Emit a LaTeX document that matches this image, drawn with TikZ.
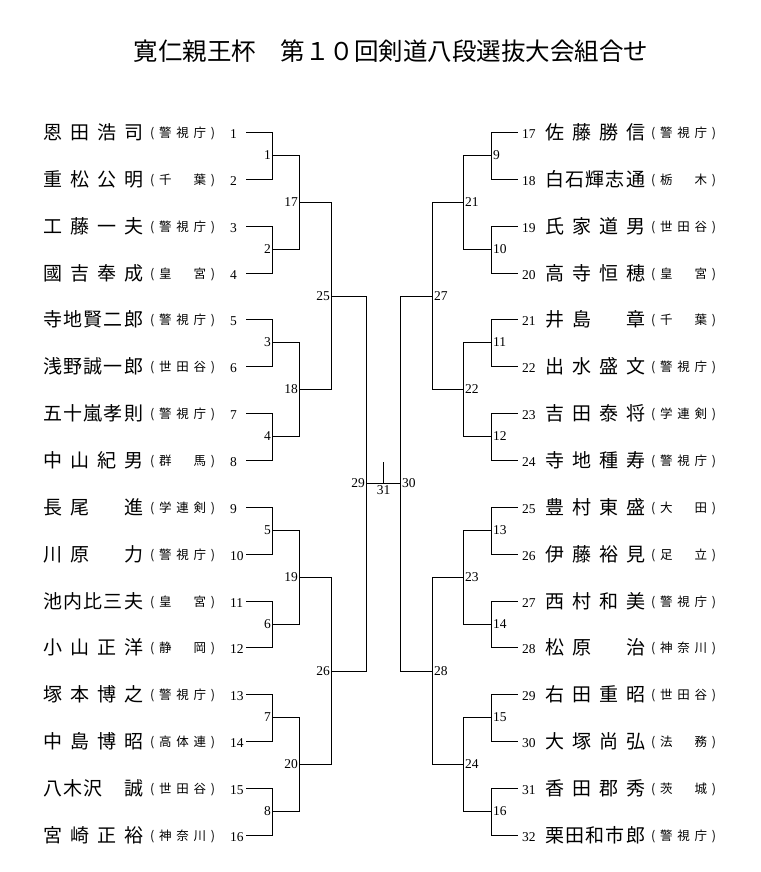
\documentclass[tikz,border=0pt]{standalone}
\usepackage{fontspec}
\setmainfont{Liberation Serif}
\newfontfamily\jp{Noto Sans CJK JP}
\usepackage{tikz}
\usetikzlibrary{positioning}
\newcommand{\namefont}{\jp\fontsize{19}{19}\selectfont}
\newcommand{\afffont}{\jp\fontsize{12.5}{12.5}\selectfont}
\newcommand{\numfont}{\fontsize{13.5}{13.5}\selectfont}
\newcommand{\pname}[1]{\makebox[100pt][s]{\namefont #1}}
\newcommand{\paff}[1]{\raisebox{2.5pt}{\makebox[65pt][s]{\afffont #1}}}
\newcommand{\aff}[3]{(\hfill #1\hfill #2\hfill #3\hfill )}
\newcommand{\affx}[2]{(\hfill #1\hfill \phantom{#1}\hfill #2\hfill )}
\newcommand{\lrow}[3]{\pname{#1}\hspace{7pt}\paff{#2}\hspace{15pt}%
  \makebox[16pt][l]{\raisebox{1.5pt}{\numfont #3}}}
\newcommand{\rrow}[3]{\hspace*{5pt}\makebox[23pt][l]{\raisebox{1.5pt}{\numfont #1}}%
  \pname{#2}\hspace{6pt}\paff{#3}}
\tikzset{
    player/.style={
           inner sep=0pt,
           anchor=west,
           },
    lnum/.style={
           inner sep=1.5pt,
           font=\numfont,
           },
    titlebox/.style={
           inner sep=0pt,
           font=\jp\fontsize{24.5}{24.5}\selectfont,
           },
    link/.style={
           line width=1.5pt,
           line cap=rect,
           to path={-| (\tikztotarget)},
           },
    straight/.style={
           line width=1.5pt,
           line cap=rect,
           },
}
\begin{document}
\begin{tikzpicture}[x=1pt, y=-1pt, node distance=0pt]
	\useasboundingbox (0,0) rectangle (760,872);
	\node[titlebox] (title) at (391,51) {寛仁親王杯　第１０回剣道八段選抜大会組合せ};
	
	% left players
	\node[player] (p1) at (43,132.5) {\lrow{恩\hfill 田\hfill 浩\hfill 司}{\aff{警}{視}{庁}}{1}};
	\node[player] (p2) at (43,179.5) {\lrow{重\hfill 松\hfill 公\hfill 明}{\affx{千}{葉}}{2}};
	\node[player] (p3) at (43,226.5) {\lrow{工\hfill 藤\hfill 一\hfill 夫}{\aff{警}{視}{庁}}{3}};
	\node[player] (p4) at (43,273.5) {\lrow{國\hfill 吉\hfill 奉\hfill 成}{\affx{皇}{宮}}{4}};
	\node[player] (p5) at (43,319.5) {\lrow{寺\hfill 地\hfill 賢\hfill 二\hfill 郎}{\aff{警}{視}{庁}}{5}};
	\node[player] (p6) at (43,366.5) {\lrow{浅\hfill 野\hfill 誠\hfill 一\hfill 郎}{\aff{世}{田}{谷}}{6}};
	\node[player] (p7) at (43,413.5) {\lrow{五\hfill 十\hfill 嵐\hfill 孝\hfill 則}{\aff{警}{視}{庁}}{7}};
	\node[player] (p8) at (43,460.5) {\lrow{中\hfill 山\hfill 紀\hfill 男}{\affx{群}{馬}}{8}};
	\node[player] (p9) at (43,507.5) {\lrow{長\hfill 尾\hfill \phantom{長}\hfill 進}{\aff{学}{連}{剣}}{9}};
	\node[player] (p10) at (43,554.5) {\lrow{川\hfill 原\hfill \phantom{川}\hfill 力}{\aff{警}{視}{庁}}{10}};
	\node[player] (p11) at (43,601.5) {\lrow{池\hfill 内\hfill 比\hfill 三\hfill 夫}{\affx{皇}{宮}}{11}};
	\node[player] (p12) at (43,647.5) {\lrow{小\hfill 山\hfill 正\hfill 洋}{\affx{静}{岡}}{12}};
	\node[player] (p13) at (43,694.5) {\lrow{塚\hfill 本\hfill 博\hfill 之}{\aff{警}{視}{庁}}{13}};
	\node[player] (p14) at (43,741.5) {\lrow{中\hfill 島\hfill 博\hfill 昭}{\aff{高}{体}{連}}{14}};
	\node[player] (p15) at (43,788.5) {\lrow{八\hfill 木\hfill 沢\hfill \phantom{八}\hfill 誠}{\aff{世}{田}{谷}}{15}};
	\node[player] (p16) at (43,835.5) {\lrow{宮\hfill 崎\hfill 正\hfill 裕}{\aff{神}{奈}{川}}{16}};
	
	% right players
	\node[player] (p17) at (517,132.5) {\rrow{17}{佐\hfill 藤\hfill 勝\hfill 信}{\aff{警}{視}{庁}}};
	\node[player] (p18) at (517,179.5) {\rrow{18}{白\hfill 石\hfill 輝\hfill 志\hfill 通}{\affx{栃}{木}}};
	\node[player] (p19) at (517,226.5) {\rrow{19}{氏\hfill 家\hfill 道\hfill 男}{\aff{世}{田}{谷}}};
	\node[player] (p20) at (517,273.5) {\rrow{20}{高\hfill 寺\hfill 恒\hfill 穂}{\affx{皇}{宮}}};
	\node[player] (p21) at (517,319.5) {\rrow{21}{井\hfill 島\hfill \phantom{井}\hfill 章}{\affx{千}{葉}}};
	\node[player] (p22) at (517,366.5) {\rrow{22}{出\hfill 水\hfill 盛\hfill 文}{\aff{警}{視}{庁}}};
	\node[player] (p23) at (517,413.5) {\rrow{23}{吉\hfill 田\hfill 泰\hfill 将}{\aff{学}{連}{剣}}};
	\node[player] (p24) at (517,460.5) {\rrow{24}{寺\hfill 地\hfill 種\hfill 寿}{\aff{警}{視}{庁}}};
	\node[player] (p25) at (517,507.5) {\rrow{25}{豊\hfill 村\hfill 東\hfill 盛}{\affx{大}{田}}};
	\node[player] (p26) at (517,554.5) {\rrow{26}{伊\hfill 藤\hfill 裕\hfill 見}{\affx{足}{立}}};
	\node[player] (p27) at (517,601.5) {\rrow{27}{西\hfill 村\hfill 和\hfill 美}{\aff{警}{視}{庁}}};
	\node[player] (p28) at (517,647.5) {\rrow{28}{松\hfill 原\hfill \phantom{松}\hfill 治}{\aff{神}{奈}{川}}};
	\node[player] (p29) at (517,694.5) {\rrow{29}{右\hfill 田\hfill 重\hfill 昭}{\aff{世}{田}{谷}}};
	\node[player] (p30) at (517,741.5) {\rrow{30}{大\hfill 塚\hfill 尚\hfill 弘}{\affx{法}{務}}};
	\node[player] (p31) at (517,788.5) {\rrow{31}{香\hfill 田\hfill 郡\hfill 秀}{\affx{茨}{城}}};
	\node[player] (p32) at (517,835.5) {\rrow{32}{栗\hfill 田\hfill 和\hfill 市\hfill 郎}{\aff{警}{視}{庁}}};
	
	% match points
	\coordinate (m1) at (272.5,155.5);
	\coordinate (m2) at (272.5,249.5);
	\coordinate (m3) at (272.5,342.5);
	\coordinate (m4) at (272.5,436.5);
	\coordinate (m5) at (272.5,530.5);
	\coordinate (m6) at (272.5,624.5);
	\coordinate (m7) at (272.5,717.5);
	\coordinate (m8) at (272.5,811.5);
	\coordinate (m9) at (491.5,155.5);
	\coordinate (m10) at (491.5,249.5);
	\coordinate (m11) at (491.5,342.5);
	\coordinate (m12) at (491.5,436.5);
	\coordinate (m13) at (491.5,530.5);
	\coordinate (m14) at (491.5,624.5);
	\coordinate (m15) at (491.5,717.5);
	\coordinate (m16) at (491.5,811.5);
	\coordinate (m17) at (299.5,202.5);
	\coordinate (m18) at (299.5,389.5);
	\coordinate (m19) at (299.5,577.5);
	\coordinate (m20) at (299.5,764.5);
	\coordinate (m21) at (463.5,202.5);
	\coordinate (m22) at (463.5,389.5);
	\coordinate (m23) at (463.5,577.5);
	\coordinate (m24) at (463.5,764.5);
	\coordinate (m25) at (331.5,296.5);
	\coordinate (m26) at (331.5,671.5);
	\coordinate (m27) at (432.5,296.5);
	\coordinate (m28) at (432.5,671.5);
	\coordinate (m29) at (366.5,483.5);
	\coordinate (m30) at (400.5,483.5);
	\coordinate (m31) at (383.5,483.5);
	\coordinate (t31) at (383.5,462.5);
	
	% match numbers
	\node[lnum, left=of m1] (n1) {1};
	\node[lnum, left=of m2] (n2) {2};
	\node[lnum, left=of m3] (n3) {3};
	\node[lnum, left=of m4] (n4) {4};
	\node[lnum, left=of m5] (n5) {5};
	\node[lnum, left=of m6] (n6) {6};
	\node[lnum, left=of m7] (n7) {7};
	\node[lnum, left=of m8] (n8) {8};
	\node[lnum, right=of m9] (n9) {9};
	\node[lnum, right=of m10] (n10) {10};
	\node[lnum, right=of m11] (n11) {11};
	\node[lnum, right=of m12] (n12) {12};
	\node[lnum, right=of m13] (n13) {13};
	\node[lnum, right=of m14] (n14) {14};
	\node[lnum, right=of m15] (n15) {15};
	\node[lnum, right=of m16] (n16) {16};
	\node[lnum, left=of m17] (n17) {17};
	\node[lnum, left=of m18] (n18) {18};
	\node[lnum, left=of m19] (n19) {19};
	\node[lnum, left=of m20] (n20) {20};
	\node[lnum, right=of m21] (n21) {21};
	\node[lnum, right=of m22] (n22) {22};
	\node[lnum, right=of m23] (n23) {23};
	\node[lnum, right=of m24] (n24) {24};
	\node[lnum, left=of m25] (n25) {25};
	\node[lnum, left=of m26] (n26) {26};
	\node[lnum, right=of m27] (n27) {27};
	\node[lnum, right=of m28] (n28) {28};
	\node[lnum, left=of m29] (n29) {29};
	\node[lnum, right=of m30] (n30) {30};
	\node[lnum, below=of m31] (n31) {31};
	
	
	\path[link]	(p1.east) edge (m1)  (p2.east) edge (m1)
			(p3.east) edge (m2)  (p4.east) edge (m2)
			(p5.east) edge (m3)  (p6.east) edge (m3)
			(p7.east) edge (m4)  (p8.east) edge (m4)
			(p9.east) edge (m5)  (p10.east) edge (m5)
			(p11.east) edge (m6) (p12.east) edge (m6)
			(p13.east) edge (m7) (p14.east) edge (m7)
			(p15.east) edge (m8) (p16.east) edge (m8);
	\path[link]	(p17.west) edge (m9)  (p18.west) edge (m9)
			(p19.west) edge (m10) (p20.west) edge (m10)
			(p21.west) edge (m11) (p22.west) edge (m11)
			(p23.west) edge (m12) (p24.west) edge (m12)
			(p25.west) edge (m13) (p26.west) edge (m13)
			(p27.west) edge (m14) (p28.west) edge (m14)
			(p29.west) edge (m15) (p30.west) edge (m15)
			(p31.west) edge (m16) (p32.west) edge (m16);
	\path[link]	(m1) edge (m17) (m2) edge (m17)
			(m3) edge (m18) (m4) edge (m18)
			(m5) edge (m19) (m6) edge (m19)
			(m7) edge (m20) (m8) edge (m20)
			(m9) edge (m21) (m10) edge (m21)
			(m11) edge (m22) (m12) edge (m22)
			(m13) edge (m23) (m14) edge (m23)
			(m15) edge (m24) (m16) edge (m24);
	\path[link]	(m17) edge (m25) (m18) edge (m25)
			(m19) edge (m26) (m20) edge (m26)
			(m21) edge (m27) (m22) edge (m27)
			(m23) edge (m28) (m24) edge (m28)
			(m25) edge (m29) (m26) edge (m29)
			(m27) edge (m30) (m28) edge (m30);
	\path[straight]	(m29) edge (m30)
			(m31) edge (t31);

\end{tikzpicture}
\end{document}
